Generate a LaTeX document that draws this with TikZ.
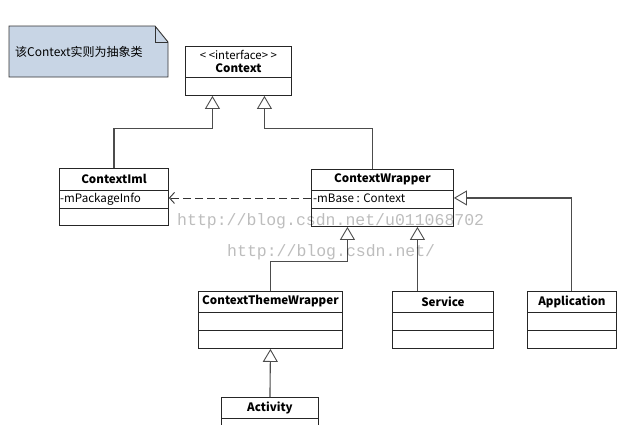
\documentclass[tikz,border=0pt]{standalone}
\usepackage{fontspec}
\setmainfont{Noto Sans CJK SC}
\setmonofont{Liberation Mono}
\usetikzlibrary{arrows.meta,positioning}
\definecolor{notefill}{HTML}{C8D5E5}
\definecolor{wmgray}{HTML}{BDBDBD}

\begin{document}
\begin{tikzpicture}[x=1pt,y=-1pt,
    classbox/.style={draw=black!85,line width=0.9pt,fill=white,inner sep=0pt,anchor=north west},
    divider/.style={draw=black!85,line width=0.9pt},
    title/.style={font=\bfseries\fontsize{11.6}{13}\selectfont,inner sep=0pt},
    attr/.style={font=\fontsize{11.6}{13}\selectfont,inner sep=0pt,anchor=west},
    inherit/.style={draw=black!70,line width=1.1pt,-{Triangle[open,length=13pt,width=15pt,line width=0.9pt]}},
    depend/.style={draw=black!80,line width=0.9pt,dash pattern=on 8pt off 4pt,-{Straight Barb[length=5pt,width=11pt]}},
    watermark/.style={font=\ttfamily\fontsize{16.5}{18}\selectfont,text=wmgray,inner sep=0pt,anchor=west}]
\useasboundingbox (0,0) rectangle (643,424);

% note
\draw[black!80,line width=0.9pt,fill=notefill] (9,26) -- (155,26) -- (168,42) -- (168,77) -- (9,77) -- cycle;
\draw[black!80,line width=0.9pt] (155,26) -- (155,42) -- (168,42);
\node[anchor=west,inner sep=0pt,font=\fontsize{12}{14}\selectfont] (notetext) at (15,52) {该Context实则为抽象类};

% classes
\node[classbox,minimum width=106pt,minimum height=49pt] (context) at (185,46) {};
\draw[divider] (context.north west) ++(0,31) -- ++(106,0);
\node[inner sep=0pt,font=\fontsize{11.4}{13}\selectfont] (context-st) at ([yshift=-9pt]context.north) {<\kern2.5pt<interface>\kern2.5pt>};
\node[title] (context-name) at ([yshift=-22pt]context.north) {Context};

\node[classbox,minimum width=109pt,minimum height=57pt] (contextiml) at (59,168) {};
\draw[divider] (contextiml.north west) ++(0,22) -- ++(109,0);
\draw[divider] (contextiml.north west) ++(0,40) -- ++(109,0);
\node[title] (contextiml-name) at ([yshift=-11pt]contextiml.north) {ContextIml};
\node[attr] (contextiml-attr) at ([xshift=1pt,yshift=-31pt]contextiml.north west) {-mPackageInfo};

\node[classbox,minimum width=142pt,minimum height=57pt] (wrapper) at (311,169) {};
\draw[divider] (wrapper.north west) ++(0,21) -- ++(142,0);
\draw[divider] (wrapper.north west) ++(0,39) -- ++(142,0);
\node[title] (wrapper-name) at ([yshift=-10.5pt]wrapper.north) {ContextWrapper};
\node[attr] (wrapper-attr) at ([xshift=2pt,yshift=-29.5pt]wrapper.north west) {-mBase : Context};

\node[classbox,minimum width=144pt,minimum height=57pt] (ctw) at (198,291) {};
\draw[divider] (ctw.north west) ++(0,21) -- ++(144,0);
\draw[divider] (ctw.north west) ++(0,39) -- ++(144,0);
\node[title] (ctw-name) at ([yshift=-10.5pt]ctw.north) {ContextThemeWrapper};

\node[classbox,minimum width=101pt,minimum height=57pt] (service) at (392,291) {};
\draw[divider] (service.north west) ++(0,21) -- ++(101,0);
\draw[divider] (service.north west) ++(0,39) -- ++(101,0);
\node[title] (service-name) at ([yshift=-10.5pt]service.north) {Service};

\node[classbox,minimum width=89pt,minimum height=57pt] (application) at (527,291) {};
\draw[divider] (application.north west) ++(0,21) -- ++(89,0);
\draw[divider] (application.north west) ++(0,39) -- ++(89,0);
\node[title] (application-name) at ([yshift=-10.5pt]application.north) {Application};

\node[classbox,minimum width=97pt,minimum height=54pt] (activity) at (221,397) {};
\draw[divider] (activity.north west) ++(0,21) -- ++(97,0);
\draw[divider] (activity.north west) ++(0,39) -- ++(97,0);
\node[title] (activity-name) at ([yshift=-10.5pt]activity.north) {Activity};

% connectors
\coordinate (wrapper-l) at ([xshift=-35pt]wrapper.south);
\coordinate (wrapper-r) at ([xshift=35pt]wrapper.south);
\draw[inherit] (contextiml.north) |- ([xshift=-26pt,yshift=-33pt]context.south) -- ([xshift=-26pt]context.south);
\draw[inherit] ([xshift=-10pt]wrapper.north) |- ([xshift=26pt,yshift=-33pt]context.south) -- ([xshift=26pt]context.south);
\draw[depend] (wrapper.west) -- (wrapper.west -| contextiml.east);
\draw[inherit] (ctw.north) |- ([yshift=-35pt]wrapper-l) -- (wrapper-l);
\draw[inherit] (service.north -| wrapper-r) -- (wrapper-r);
\draw[inherit] ([xshift=-0.5pt]application.north) |- (wrapper.east);
\draw[inherit] (activity.north) -- (ctw.south);

% watermark, laid over the drawing
\begin{scope}[blend mode=multiply]
\node[watermark] (wm1) at (177,221) {http://blog.csdn.net/u011068702};
\node[watermark] (wm2) at (227,252) {http://blog.csdn.net/};
\end{scope}
\end{tikzpicture}
\end{document}
